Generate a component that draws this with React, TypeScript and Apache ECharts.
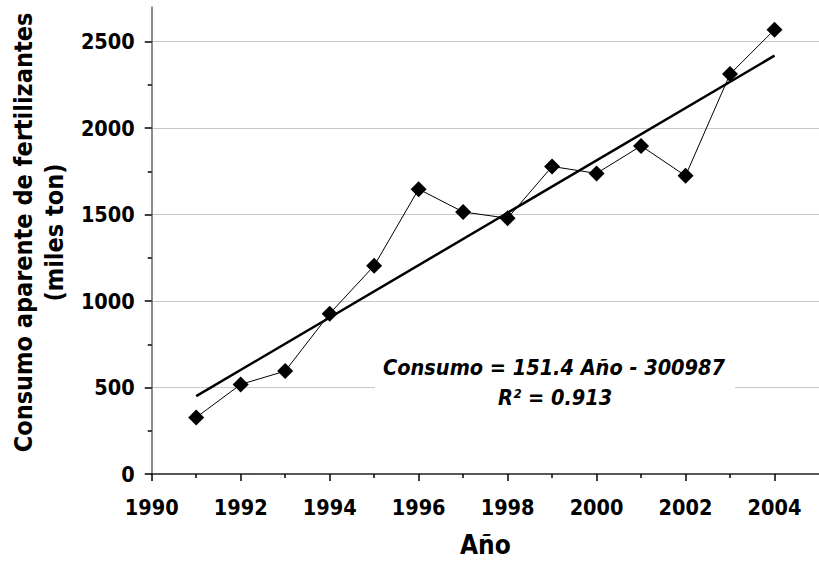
import React, { useEffect, useRef } from "react";
import * as echarts from "echarts";

const years = [1991, 1992, 1993, 1994, 1995, 1996, 1997, 1998, 1999, 2000, 2001, 2002, 2003, 2004];
const consumo = [327, 518, 595, 927, 1204, 1647, 1515, 1479, 1778, 1738, 1897, 1724, 2312, 2569];
const trendYears = [1991, 2004];
const trendValues = [450.4, 2418.6];
const xMajorTicks = [1990, 1992, 1994, 1996, 1998, 2000, 2002, 2004];
const xMinorTicks = [1991, 1993, 1995, 1997, 1999, 2001, 2003];
const yMajorTicks = [0, 500, 1000, 1500, 2000, 2500];
const yMinorTicks = [250, 750, 1250, 1750, 2250];
const gridValues = [500, 1000, 1500, 2000, 2500];
const equationLine1 = "Consumo = 151.4 Año - 300987";
const equationLine2 = "R² = 0.913";

const FONT = "'DejaVu Sans Condensed', 'DejaVu Sans', sans-serif";

export default function App() {
  const ref = useRef<HTMLDivElement>(null);
  useEffect(() => {
    if (!ref.current) return;
    const chart = echarts.init(ref.current, null, { renderer: "svg" });
    const axisCommon = {
      type: "value" as const,
      splitLine: { show: false },
    };
    const plain = (v: number) => String(v);
    chart.setOption({
      animation: false,
      backgroundColor: "#ffffff",
      grid: { left: 148, right: 0, top: 7, bottom: 87, containLabel: false },
      xAxis: [
        {
          ...axisCommon,
          min: 1990,
          max: 2005,
          name: "Año",
          nameLocation: "middle",
          nameGap: 58,
          nameTextStyle: { fontFamily: FONT, fontWeight: "bold", fontSize: 26, color: "#000" },
          axisLine: { show: true, onZero: false, lineStyle: { color: "#222", width: 1.5 } },
          axisTick: { show: true, customValues: xMajorTicks, length: 7, lineStyle: { color: "#000", width: 1.5 } },
          axisLabel: {
            show: true,
            customValues: xMajorTicks,
            formatter: plain,
            margin: 22,
            fontFamily: FONT,
            fontWeight: "bold",
            fontSize: 21.5,
            color: "#000",
          },
        },
        {
          ...axisCommon,
          min: 1990,
          max: 2005,
          position: "bottom",
          axisLine: { show: false, onZero: false },
          axisTick: { show: true, customValues: xMinorTicks, length: 4, lineStyle: { color: "#000", width: 1.5 } },
          axisLabel: { show: false },
        },
      ],
      yAxis: [
        {
          ...axisCommon,
          min: 0,
          max: 2700,
          name: "Consumo aparente de fertilizantes\n(miles ton)",
          nameLocation: "middle",
          nameGap: 78,
          nameRotate: 90,
          nameTextStyle: {
            fontFamily: FONT,
            fontWeight: "bold",
            fontSize: 25,
            lineHeight: 31,
            color: "#000",
            align: "center",
            padding: [0, 0, 0, 16],
          },
          axisLine: { show: true, lineStyle: { color: "#666", width: 1.5 } },
          axisTick: { show: true, customValues: yMajorTicks, length: 7, lineStyle: { color: "#000", width: 1.5 } },
          axisLabel: {
            show: true,
            customValues: yMajorTicks,
            formatter: plain,
            margin: 17,
            fontFamily: FONT,
            fontWeight: "bold",
            fontSize: 21.5,
            color: "#000",
          },
        },
        {
          ...axisCommon,
          min: 0,
          max: 2700,
          position: "left",
          axisLine: { show: false },
          axisTick: { show: true, customValues: yMinorTicks, length: 4, lineStyle: { color: "#000", width: 1.5 } },
          axisLabel: { show: false },
        },
      ],
      series: [
        {
          type: "line",
          name: "grid",
          data: [],
          silent: true,
          markLine: {
            silent: true,
            symbol: "none",
            label: { show: false },
            lineStyle: { color: "#c8c8c8", width: 1.2, type: "solid" },
            data: gridValues.map((v) => ({ yAxis: v })),
            z: 0,
          },
          z: 0,
        },
        {
          type: "line",
          name: "Tendencia",
          data: trendYears.map((y, i) => [y, trendValues[i]]),
          showSymbol: false,
          symbol: "none",
          lineStyle: { color: "#000", width: 2.5 },
          z: 3,
        },
        {
          type: "line",
          name: "Consumo",
          data: years.map((y, i) => [y, consumo[i]]),
          symbol: "diamond",
          symbolSize: 16,
          itemStyle: { color: "#000" },
          lineStyle: { color: "#000", width: 1 },
          z: 4,
        },
      ],
      graphic: [
        {
          type: "rect",
          shape: { x: 375, y: 350, width: 360, height: 62 },
          style: { fill: "#ffffff" },
          z: 10,
        },
        {
          type: "text",
          x: 554,
          y: 367,
          z: 11,
          style: {
            text: equationLine1,
            fontFamily: FONT,
            fontWeight: "bold",
            fontStyle: "italic",
            fontSize: 21.5,
            fill: "#000",
            align: "center",
            verticalAlign: "middle",
          },
        },
        {
          type: "text",
          x: 555,
          y: 397,
          z: 11,
          style: {
            text: equationLine2,
            fontFamily: FONT,
            fontWeight: "bold",
            fontStyle: "italic",
            fontSize: 21.5,
            fill: "#000",
            align: "center",
            verticalAlign: "middle",
          },
        },
      ],
    });
    return () => chart.dispose();
  }, []);
  return (
    <div
      ref={ref}
      style={{ position: "absolute", left: 0, top: 0, width: 819, height: 563, background: "#fff" }}
    />
  );
}
